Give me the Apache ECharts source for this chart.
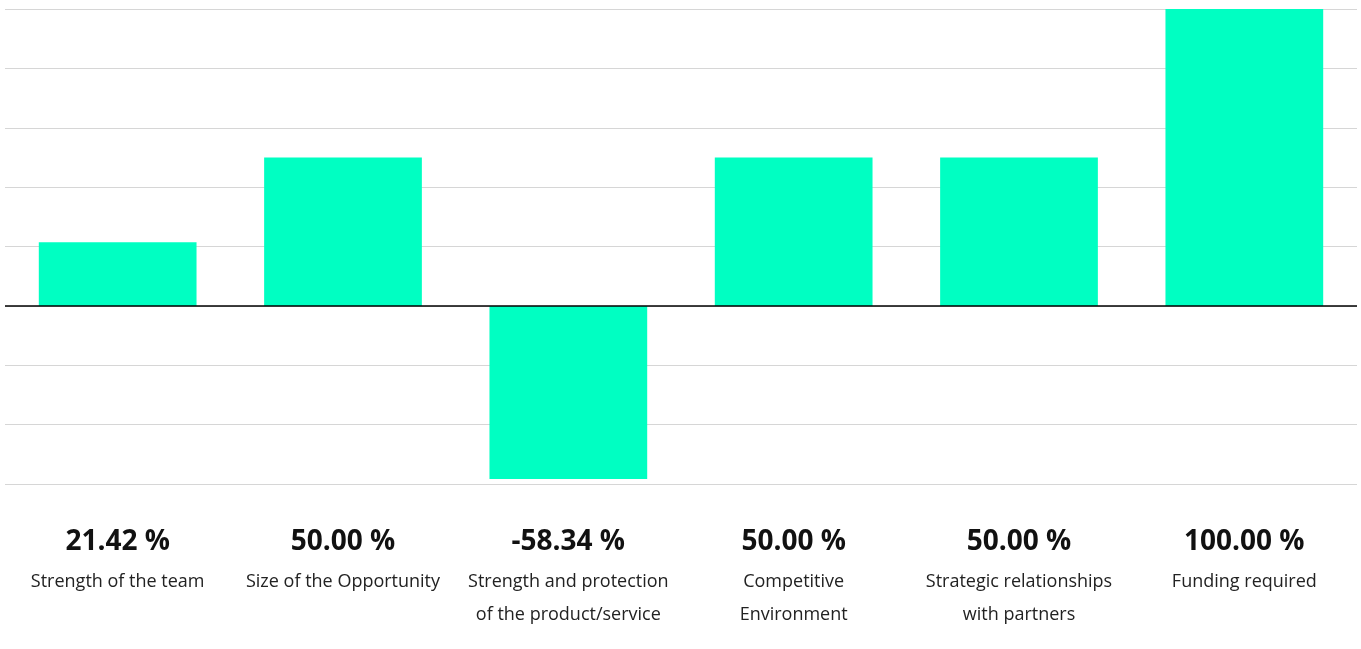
<!DOCTYPE html>
<html>
<head>
<meta charset="utf-8">
<style>
html,body{margin:0;padding:0;background:#fff;}
#chart{width:1361px;height:649px;}
</style>
<script src="https://cdn.jsdelivr.net/npm/echarts@6/dist/echarts.min.js"></script>
</head>
<body>
<div id="chart"></div>
<script>
const categories = [
  "Strength of the team",
  "Size of the Opportunity",
  "Strength and protection\nof the product/service",
  "Competitive\nEnvironment",
  "Strategic relationships\nwith partners",
  "Funding required"
];
const values = [21.42, 50.00, -58.34, 50.00, 50.00, 100.00];
const yMin = -60, yMax = 100, yStep = 20;

const chart = echarts.init(document.getElementById('chart'));
chart.setOption({
  animation: false,
  grid: { left: 5, right: 4, top: 9, bottom: 165 },
  xAxis: {
    type: 'category',
    data: categories,
    axisLine: { show: false, onZero: false },
    axisTick: { show: false },
    axisLabel: {
      interval: 0,
      margin: 36,
      formatter: function (name, idx) {
        const v = values[idx].toFixed(2) + ' %';
        const lines = name.split('\n').map(l => '{n|' + l + '}').join('\n');
        return '{v|' + v + '}\n' + lines;
      },
      rich: {
        v: { fontFamily: 'Open Sans', fontWeight: 'bold', fontSize: 28, color: '#111', lineHeight: 45 },
        n: { fontFamily: 'Open Sans', fontSize: 18, color: '#222', lineHeight: 33 }
      }
    }
  },
  yAxis: {
    type: 'value',
    min: yMin, max: yMax, interval: yStep,
    axisLabel: { show: false },
    axisLine: { show: false },
    axisTick: { show: false },
    splitLine: { show: true, lineStyle: { color: '#d6d6d6', width: 1 } }
  },
  series: [{
    type: 'bar',
    data: values,
    barWidth: '70%',
    itemStyle: { color: '#00ffc2' },
    markLine: {
      silent: true,
      symbol: ['none', 'none'],
      label: { show: false },
      lineStyle: { color: '#000', width: 1.5, type: 'solid' },
      data: [{ yAxis: 0 }]
    }
  }]
});
</script>
</body>
</html>
